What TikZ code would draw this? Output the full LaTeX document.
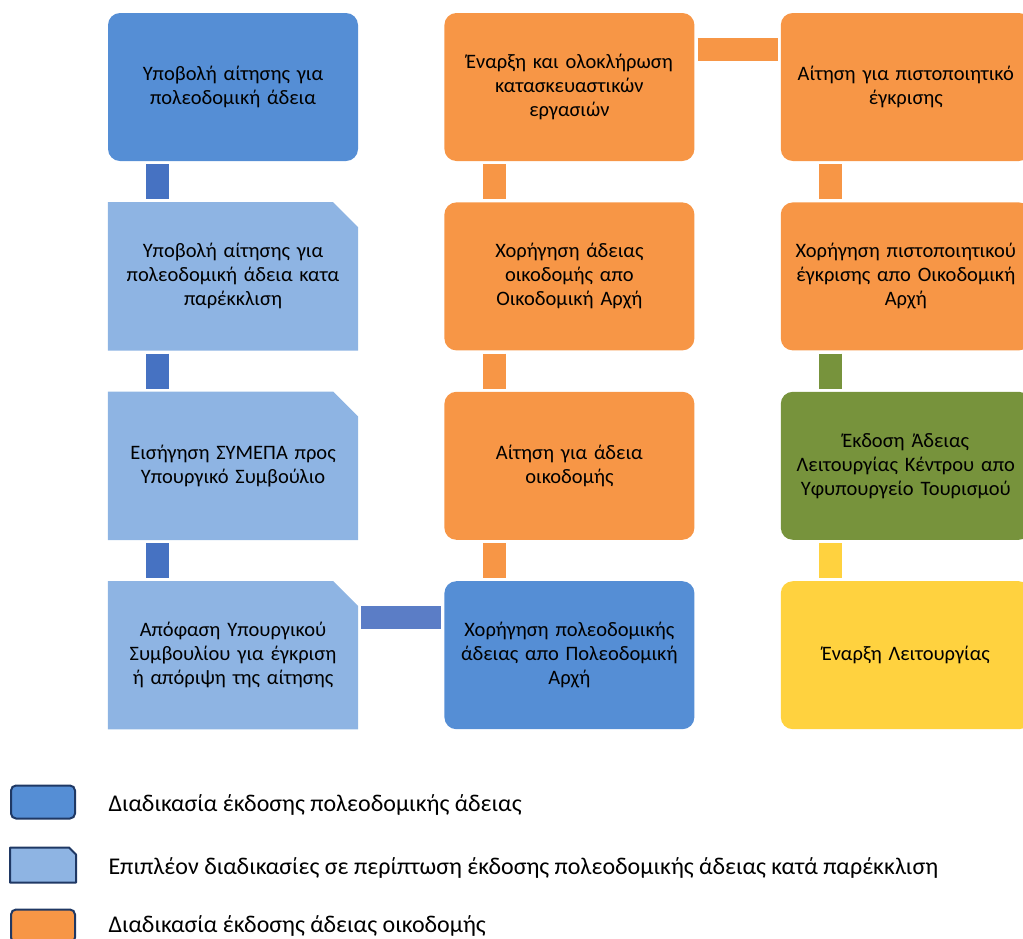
\documentclass[tikz,border=0pt]{standalone}
\usepackage{fontspec}
\setmainfont{Carlito}
\usetikzlibrary{positioning, backgrounds}
\definecolor{blau_pas}{HTML}{558ED5}
\definecolor{blau_clar}{HTML}{8EB4E3}
\definecolor{blau_fosc}{HTML}{4672C2}
\definecolor{blau_unio}{HTML}{5B7DC6}
\definecolor{taronja}{HTML}{F79646}
\definecolor{verd}{HTML}{77933C}
\definecolor{groc}{HTML}{FFD23F}
\definecolor{vora}{HTML}{1F3864}
\tikzset{every node/.style={font=\fontsize{20.5}{24}\selectfont, text=black},
  pas/.style={rounded corners=12pt, minimum width=250pt, minimum height=148pt, text width=234pt, align=center, inner sep=0pt},
  pas_extra/.style={pas, rounded corners=0pt},
  barra/.style={line width=23pt, shorten <=3pt, shorten >=3pt},
  llegenda/.style={draw=vora, line width=2pt, rounded corners=5pt, minimum width=64pt, minimum height=33pt, inner sep=0pt},
  llegenda_text/.style={font=\fontsize{24}{28}\selectfont, right=29pt of #1, yshift=-3pt}}

\begin{document}
\begin{tikzpicture}[x=1pt, y=-1pt, node distance=41pt and 86pt]
            \clip (0,0) rectangle (1023,938);
            % columna esquerra
            \node[pas, fill=blau_pas] (subm_poleod) at (233,87) {Υποβολή αίτησης για\\πολεοδομική άδεια};
            \node[pas_extra, below=of subm_poleod] (subm_parekk) {Υποβολή αίτησης για\\πολεοδομική άδεια κατα\\παρέκκλιση};
            \node[pas_extra, below=of subm_parekk] (eisigisi) {Εισήγηση ΣΥΜΕΠΑ προς\\Υπουργικό Συμβούλιο};
            \node[pas_extra, below=of eisigisi] (apofasi) {Απόφαση Υπουργικού\\Συμβουλίου για έγκριση\\ή απόριψη της αίτησης};
            % columna central
            \node[pas, fill=blau_pas, right=of apofasi] (xorig_poleod) {Χορήγηση πολεοδομικής\\άδειας απο Πολεοδομική\\Αρχή};
            \node[pas, fill=taronja, above=of xorig_poleod] (aitisi_oikod) {Αίτηση για άδεια\\οικοδομής};
            \node[pas, fill=taronja, above=of aitisi_oikod] (xorig_oikod) {Χορήγηση άδειας\\οικοδομής απο\\Οικοδομική Αρχή};
            \node[pas, fill=taronja, above=of xorig_oikod] (ergasies) {Έναρξη και ολοκλήρωση\\κατασκευαστικών\\εργασιών};
            % columna dreta
            \node[pas, fill=taronja, right=of ergasies] (aitisi_pistop) {Αίτηση για πιστοποιητικό\\έγκρισης};
            \node[pas, fill=taronja, below=of aitisi_pistop] (xorig_pistop) {Χορήγηση πιστοποιητικού\\έγκρισης απο Οικοδομική\\Αρχή};
            \node[pas, fill=verd, below=of xorig_pistop] (adeia_leit) {Έκδοση Άδειας\\Λειτουργίας Κέντρου απο\\Υφυπουργείο Τουρισμού};
            \node[pas, fill=groc, below=of adeia_leit] (enarxi_leit) {Έναρξη Λειτουργίας};
            % fons amb la cantonada tallada
            \begin{scope}[on background layer]
              \foreach \n in {subm_parekk, eisigisi, apofasi}
                \fill[blau_clar] (\n.south west) -- (\n.north west) -- ([xshift=-25pt]\n.north east) -- ([yshift=-25pt]\n.north east) -- (\n.south east) -- cycle;
            \end{scope}
            % unions
            \draw[barra, blau_fosc] ([xshift=50pt]subm_poleod.south west) -- ([xshift=50pt]subm_parekk.north west);
            \draw[barra, blau_fosc] ([xshift=50pt]subm_parekk.south west) -- ([xshift=50pt]eisigisi.north west);
            \draw[barra, blau_fosc] ([xshift=50pt]eisigisi.south west) -- ([xshift=50pt]apofasi.north west);
            \draw[barra, blau_unio] ([yshift=38pt]apofasi.east) -- ([yshift=38pt]xorig_poleod.west);
            \draw[barra, taronja] ([xshift=50pt]aitisi_oikod.south west) -- ([xshift=50pt]xorig_poleod.north west);
            \draw[barra, taronja] ([xshift=50pt]xorig_oikod.south west) -- ([xshift=50pt]aitisi_oikod.north west);
            \draw[barra, taronja] ([xshift=50pt]ergasies.south west) -- ([xshift=50pt]xorig_oikod.north west);
            \draw[barra, taronja] ([yshift=38pt]ergasies.east) -- ([yshift=38pt]aitisi_pistop.west);
            \draw[barra, taronja] ([xshift=50pt]aitisi_pistop.south west) -- ([xshift=50pt]xorig_pistop.north west);
            \draw[barra, verd] ([xshift=50pt]xorig_pistop.south west) -- ([xshift=50pt]adeia_leit.north west);
            \draw[barra, groc] ([xshift=50pt]adeia_leit.south west) -- ([xshift=50pt]enarxi_leit.north west);
            % llegenda
            \node[llegenda, fill=blau_pas] (lleg_poleod) at (43,802) {};
            \node[llegenda_text=lleg_poleod] (lleg_poleod_text) {Διαδικασία έκδοσης πολεοδομικής άδειας};
            \node[llegenda, draw=none] (lleg_parekk) at (43,865) {};
            \filldraw[fill=blau_clar, draw=vora, line width=2pt, line join=round] (lleg_parekk.south west) -- (lleg_parekk.north west) -- ([xshift=-7pt]lleg_parekk.north east) -- ([yshift=-7pt]lleg_parekk.north east) -- (lleg_parekk.south east) -- cycle;
            \node[llegenda_text=lleg_parekk] (lleg_parekk_text) {Επιπλέον διαδικασίες σε περίπτωση έκδοσης πολεοδομικής άδειας κατά παρέκκλιση};
            \node[llegenda, fill=taronja] (lleg_oikod) at (43,926) {};
            \node[llegenda_text=lleg_oikod, yshift=3pt] (lleg_oikod_text) {Διαδικασία έκδοσης άδειας οικοδομής};
      \end{tikzpicture}
\end{document}
